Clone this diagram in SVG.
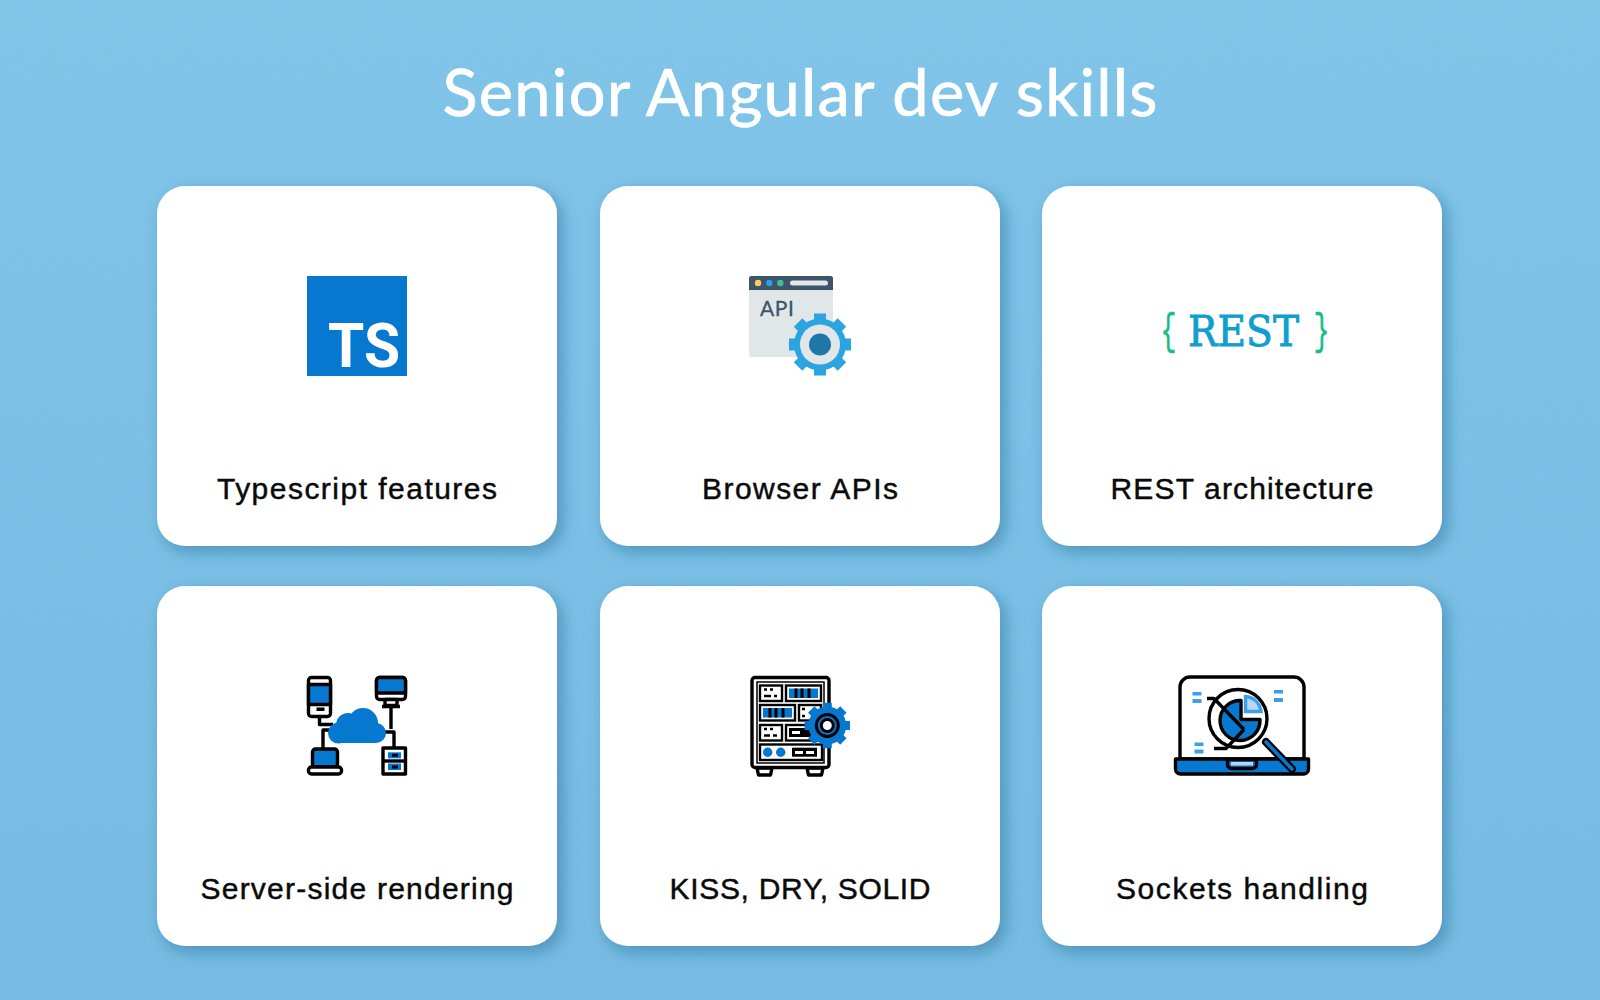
<svg xmlns="http://www.w3.org/2000/svg" width="1600" height="1000" viewBox="0 0 1600 1000">
<style>
.card{fill:#fff;filter:url(#sh)}
.lb{font-family:"Liberation Sans",Arial,sans-serif;font-size:30px;fill:#0a0a0a;stroke:#0a0a0a;stroke-width:.45;text-anchor:middle}
.k{fill:none;stroke:#000;stroke-width:3.400;stroke-linejoin:round}
.kf{fill:#fff;stroke:#000;stroke-width:3.400;stroke-linejoin:round}
.bf{fill:#0678cf;stroke:#000;stroke-width:3.400;stroke-linejoin:round}
.b{fill:#0678cf}
.l{fill:#3f9fe6}
.bk{fill:#000}
.w{fill:#fff}
</style>
<defs>
<linearGradient id="bg" x1="0" y1="0" x2="0" y2="1"><stop offset="0" stop-color="#80c5ea"/><stop offset="1" stop-color="#76bbe3"/></linearGradient>
<filter id="sh" x="-10%" y="-10%" width="125%" height="125%"><feDropShadow dx="5" dy="6" stdDeviation="8" flood-color="#1d5f88" flood-opacity=".45"/></filter>
<filter id="nz" x="0" y="0" width="100%" height="100%"><feTurbulence type="fractalNoise" baseFrequency=".7" numOctaves="2" seed="4"/><feColorMatrix values="0 0 0 0 .25  0 0 0 0 .5  0 0 0 0 .7  1.2 0 0 0 -.45"/></filter>
</defs>
<rect width="1600" height="1000" fill="url(#bg)"/>
<rect width="1600" height="1000" filter="url(#nz)" opacity=".5"/>
<text id="title" x="800" y="116" text-anchor="middle" font-family="Lato,'Open Sans',sans-serif" font-size="65" fill="#fff" stroke="#fff" stroke-width=".7" textLength="715" lengthAdjust="spacing">Senior Angular dev skills</text>

<g id="typescript">
<rect class="card" x="157" y="186" width="400" height="360" rx="28"/>
<rect x="307" y="276" width="100" height="100" fill="#0678cf"/>
<text x="328" y="367" font-family="Roboto,'Liberation Sans',sans-serif" font-weight="700" font-size="62" fill="#fff" textLength="72" lengthAdjust="spacingAndGlyphs">TS</text>
<text class="lb" x="357" y="499" textLength="280" lengthAdjust="spacing">Typescript features</text>
</g>

<g id="browser-apis">
<rect class="card" x="600" y="186" width="400" height="360" rx="28"/>
<rect x="749" y="276" width="84" height="81" rx="2.500" fill="#e1e6e9"/>
<path d="M749 290v-11.500a2.500 2.500 0 0 1 2.500-2.500h79a2.500 2.500 0 0 1 2.500 2.500v11.500z" fill="#3e5469"/>
<circle cx="758" cy="283" r="3.200" fill="#fdcd56"/><circle cx="769.300" cy="283" r="3.200" fill="#2ea0dd"/><circle cx="780.300" cy="283" r="3.200" fill="#3fbf94"/>
<rect x="790" y="280.500" width="38" height="5" rx="2.500" fill="#e1e6e9"/>
<text x="760" y="315.500" font-family="Lato,'Open Sans',sans-serif" font-size="21" fill="#3e5469" stroke="#3e5469" stroke-width=".3" textLength="34">API</text>
<g transform="translate(820 344.500)" fill="#2ca4e0">
<circle r="26"/>
<rect x="-6" y="-31" width="12" height="62"/>
<rect x="-6" y="-31" width="12" height="62" transform="rotate(45)"/>
<rect x="-6" y="-31" width="12" height="62" transform="rotate(90)"/>
<rect x="-6" y="-31" width="12" height="62" transform="rotate(135)"/>
<circle r="20" fill="#e1e6e9"/><circle r="11" fill="#1f77a8"/>
</g>
<text class="lb" x="800" y="499" textLength="196" lengthAdjust="spacing">Browser APIs</text>
</g>

<g id="rest">
<rect class="card" x="1042" y="186" width="400" height="360" rx="28"/>
<text font-family="'DejaVu Serif',serif" font-size="43" y="346"><tspan x="1160.500" y="344" font-family="'Liberation Mono',monospace" font-size="44" fill="#15bd8a" stroke="#15bd8a" stroke-width=".5" textLength="16" lengthAdjust="spacingAndGlyphs">{</tspan> <tspan x="1188" y="346" fill="#0f9fcf" stroke="#0f9fcf" stroke-width=".9" textLength="111" lengthAdjust="spacingAndGlyphs">REST</tspan> <tspan x="1313.500" y="344" font-family="'Liberation Mono',monospace" font-size="44" fill="#15bd8a" stroke="#15bd8a" stroke-width=".5" textLength="16" lengthAdjust="spacingAndGlyphs">}</tspan></text>
<text class="lb" x="1242" y="499" textLength="263" lengthAdjust="spacing">REST architecture</text>
</g>

<g id="ssr">
<rect class="card" x="157" y="586" width="400" height="360" rx="28"/>
<g class="k"><path d="M319.500 717v7.500H333M391 705v24M332 730h-9v18M384 732h10v15"/></g>
<rect class="kf" x="308.500" y="677.500" width="22" height="39" rx="3"/>
<rect class="bf" x="308.500" y="684.500" width="22" height="20"/>
<rect class="bk" x="316.500" y="707.500" width="8" height="3.500"/>
<rect class="kf" x="376.500" y="677.500" width="29" height="22" rx="3"/>
<path class="bf" d="M376.500 693v-12.500a3 3 0 0 1 3-3h23a3 3 0 0 1 3 3v12.500z"/>
<path class="kf" d="M385 699.500v6h12v-6zM382 706.500h18"/>
<g class="b"><circle cx="338.500" cy="733" r="10.500"/><circle cx="348" cy="725" r="12"/><circle cx="363" cy="723" r="15"/><circle cx="376" cy="733" r="10"/><rect x="338" y="725" width="38" height="18"/></g>
<rect class="bf" x="312.500" y="749" width="25" height="18" rx="3"/>
<rect class="kf" x="308.500" y="767" width="33" height="7" rx="3"/>
<rect class="kf" x="383" y="748" width="22.500" height="26"/>
<path class="k" d="M383 761h22.500"/>
<rect class="b" x="388" y="752.300" width="13" height="6"/><rect class="b" x="388" y="763.500" width="13" height="6.500"/>
<path d="M392 755.300h6M392 767h6" stroke="#000" stroke-width="3" fill="none"/>
<text class="lb" x="357" y="899" textLength="313" lengthAdjust="spacing">Server-side rendering</text>
</g>

<g id="kiss">
<rect class="card" x="600" y="586" width="400" height="360" rx="28"/>
<path class="kf" d="M757 768h15l-1.500 7h-12zM807 768h16l-1.500 7h-13z"/>
<rect class="kf" x="752" y="677.500" width="77" height="90" rx="3"/>
<rect x="757" y="682" width="67" height="81" fill="none" stroke="#000" stroke-width="1.500"/>
<g stroke="#000" stroke-width="2.400" fill="#fff">
<rect x="760" y="685.500" width="22" height="15.500"/>
<rect x="786" y="685.500" width="35" height="15.500"/>
<rect x="760" y="705" width="35" height="15.500"/>
<rect x="799" y="705" width="22" height="15.500"/>
<rect x="760" y="725" width="22" height="15.500"/>
<rect x="786" y="725" width="35" height="15.500"/>
<rect x="760" y="744.500" width="62" height="15.500"/>
</g>
<rect class="b" x="789" y="688.500" width="29" height="9.500"/><rect class="b" x="763" y="708" width="29" height="9.500"/>
<path d="M796 688.500v9.500M802 688.500v9.500M809 688.500v9.500M770 708v9.500M776 708v9.500M783 708v9.500" stroke="#000" stroke-width="3" fill="none"/>
<path d="M764 689.500h3M770 689.500h3M764 696h7M774 696h3M764 729h3M770 729h3M764 735.500h6M773 735.500h4M802 709h3M802 716h3" stroke="#000" stroke-width="2.500" fill="none"/>
<rect class="bk" x="789" y="728" width="29" height="9"/><rect class="w" x="792" y="731" width="8" height="3"/>
<circle class="b" cx="767.700" cy="752.300" r="4.700"/><circle class="b" cx="780.700" cy="752.300" r="4.700"/>
<rect class="bk" x="792" y="747.700" width="25" height="9"/><rect class="w" x="795" y="751" width="8" height="3"/><rect class="w" x="806" y="751" width="8" height="3"/>
<g transform="translate(827.300 725.500)" fill="#0678cf">
<circle r="19"/>
<rect x="-4.500" y="-22.700" width="9" height="45.400"/>
<rect x="-4.500" y="-22.700" width="9" height="45.400" transform="rotate(45)"/>
<rect x="-4.500" y="-22.700" width="9" height="45.400" transform="rotate(90)"/>
<rect x="-4.500" y="-22.700" width="9" height="45.400" transform="rotate(135)"/>
<circle r="11" fill="none" stroke="#000" stroke-width="3"/>
<circle r="6" fill="#fff" stroke="#000" stroke-width="3"/>
</g>
<text class="lb" x="800" y="899" textLength="261" lengthAdjust="spacing">KISS, DRY, SOLID</text>
</g>

<g id="sockets">
<rect class="card" x="1042" y="586" width="400" height="360" rx="28"/>
<path class="kf" d="M1180 759v-72a10 10 0 0 1 10-10h104a10 10 0 0 1 10 10v72z"/>
<path class="bf" d="M1175.500 759h133v10a5 5 0 0 1-5 5h-123a5 5 0 0 1-5-5z"/>
<path class="bf" d="M1227.500 759.500v5a4 4 0 0 0 4 4h21a4 4 0 0 0 4-4v-5z"/>
<rect x="1231" y="762" width="22" height="3.500" fill="#b8d6f5"/>
<g class="l">
<rect x="1192.500" y="692" width="9" height="3.500"/><rect x="1192.500" y="699" width="9" height="4"/>
<rect x="1274" y="690" width="9" height="3.500"/><rect x="1274" y="698" width="9" height="4"/>
<rect x="1194.500" y="742.500" width="9" height="3.500"/><rect x="1194.500" y="749.500" width="9" height="4"/>
</g>
<path d="M1266 742l26 27" stroke="#000" stroke-width="8" stroke-linecap="round" fill="none"/>
<path d="M1266 742l26 27" stroke="#0678cf" stroke-width="3.500" stroke-linecap="round" fill="none"/>
<circle class="kf" cx="1238" cy="718.500" r="29"/>
<path class="bf" d="M1241 700.500a20 20 0 1 0 19 19h-19z"/>
<path d="M1245.500 696.500v15h15.500a16.500 16.500 0 0 0-15.500-15z" fill="#b8d6f5" stroke="#3f9fe6" stroke-width="3.400"/>
<path class="k" d="M1207 698.500h7l30 31M1214 748.500h12l18-19"/>
<text class="lb" x="1242" y="899" textLength="252" lengthAdjust="spacing">Sockets handling</text>
</g>
</svg>
